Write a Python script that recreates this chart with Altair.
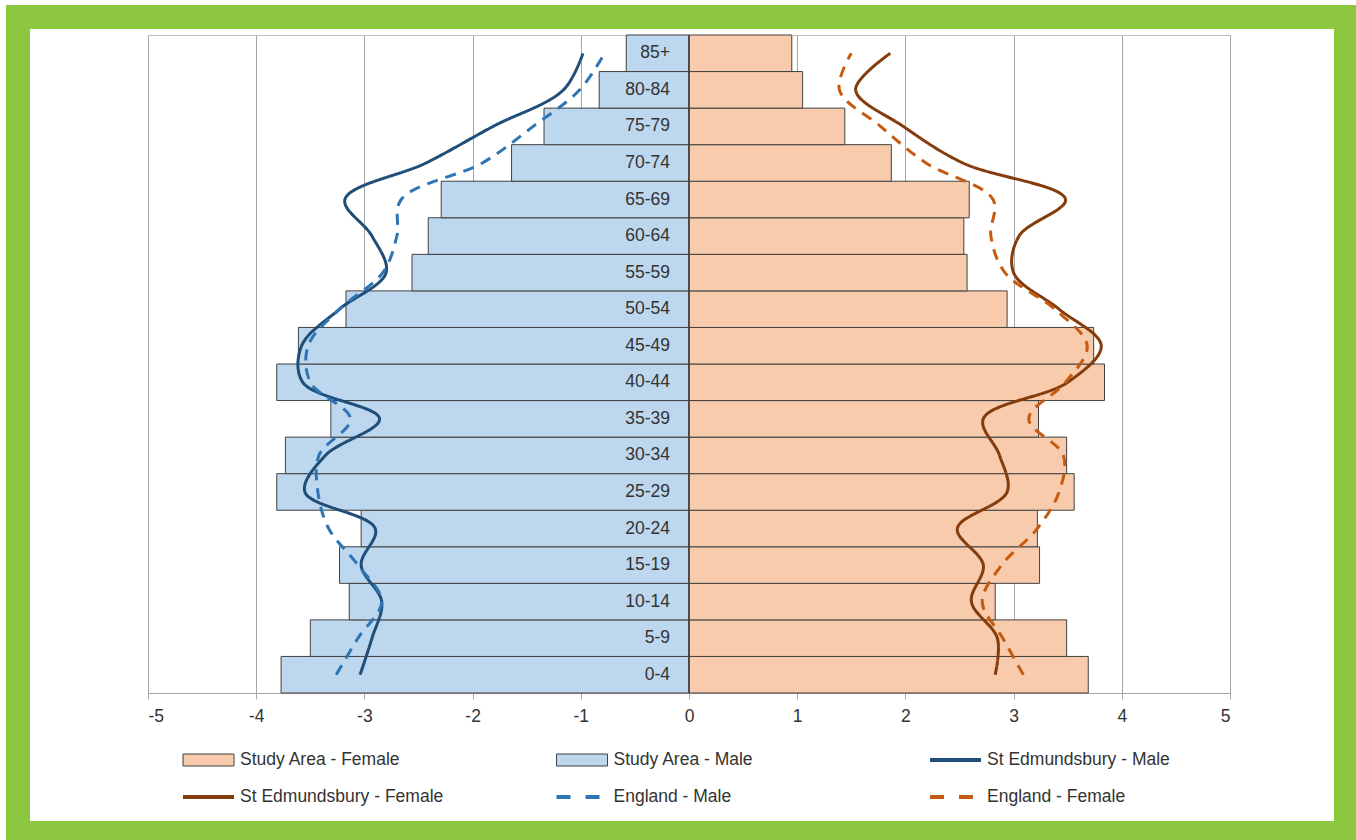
import altair as alt
import pandas as pd

# ---------------- data ----------------
ages = ["0-4", "5-9", "10-14", "15-19", "20-24", "25-29", "30-34", "35-39", "40-44",
        "45-49", "50-54", "55-59", "60-64", "65-69", "70-74", "75-79", "80-84", "85+"]

study_male = [-3.77, -3.50, -3.14, -3.23, -3.03, -3.81, -3.73, -3.31, -3.81,
              -3.61, -3.17, -2.56, -2.41, -2.29, -1.64, -1.34, -0.83, -0.58]
study_female = [3.69, 3.49, 2.83, 3.24, 3.22, 3.56, 3.49, 3.23, 3.84,
                3.74, 2.94, 2.57, 2.54, 2.59, 1.87, 1.44, 1.05, 0.95]

sted_male = [-3.04, -2.93, -2.84, -3.03, -2.90, -3.55, -3.36, -2.86, -3.57,
             -3.58, -3.23, -2.80, -2.93, -3.18, -2.43, -1.81, -1.16, -0.98]
eng_male = [-3.26, -3.06, -2.84, -3.06, -3.33, -3.43, -3.42, -3.13, -3.50,
            -3.52, -3.23, -2.83, -2.70, -2.66, -1.91, -1.44, -1.01, -0.78]
sted_female = [2.83, 2.85, 2.61, 2.72, 2.48, 2.94, 2.87, 2.72, 3.50,
               3.81, 3.42, 3.00, 3.05, 3.48, 2.53, 1.98, 1.54, 1.86]
eng_female = [3.09, 2.90, 2.71, 2.89, 3.22, 3.42, 3.46, 3.14, 3.48,
              3.68, 3.38, 2.92, 2.79, 2.81, 2.19, 1.77, 1.39, 1.50]

x_ticks = [-5, -4, -3, -2, -1, 0, 1, 2, 3, 4, 5]

legend_names = ["Study Area - Female", "Study Area - Male", "St Edmundsbury - Male",
                "St Edmundsbury - Female", "England - Male", "England - Female"]
legend_kinds = ["bar", "bar", "solid", "solid", "dash", "dash"]

series_colors = {
    "Study Area - Female": "#F8CBAD",
    "Study Area - Male": "#BDD7EE",
    "St Edmundsbury - Male": "#1F4E79",
    "St Edmundsbury - Female": "#843C0C",
    "England - Male": "#2E75B6",
    "England - Female": "#C55A11",
}

FONT = "Liberation Sans"
TEXT = "#333333"
FS = 17.5

# ---------------- tables ----------------
bars = pd.DataFrame({
    "age": ages * 2,
    "value": study_male + study_female,
    "series": ["Study Area - Male"] * len(ages) + ["Study Area - Female"] * len(ages),
})

line_rows = []
for name, vals in [("St Edmundsbury - Male", sted_male), ("England - Male", eng_male),
                   ("St Edmundsbury - Female", sted_female), ("England - Female", eng_female)]:
    for i, (a, v) in enumerate(zip(ages, vals)):
        line_rows.append({"age": a, "value": v, "series": name, "idx": i,
                          "kind": "dash" if name.startswith("England") else "solid"})
lines = pd.DataFrame(line_rows)

labels = pd.DataFrame({"age": ages})
legend_df = pd.DataFrame({"name": legend_names, "kind": legend_kinds,
                          "i": list(range(len(legend_names)))})
one = pd.DataFrame({"a": [0]})

dom = list(series_colors.keys())
rng = list(series_colors.values())
order_top = list(reversed(ages))

xscale = alt.Scale(domain=[-5, 5], nice=False, zero=False)
yscale = alt.Scale(paddingInner=0, paddingOuter=0)

# ---------------- layers ----------------
frame = alt.Chart(one).mark_rect(fill="transparent", stroke="#8DC63F", strokeWidth=24).encode(
    x=alt.value(-130), x2=alt.value(1198), y=alt.value(-18), y2=alt.value(798)
)

bar_layer = alt.Chart(bars).mark_bar(stroke="#404040", strokeWidth=1).encode(
    x=alt.X("value:Q", scale=xscale,
            axis=alt.Axis(values=x_ticks, title=None, grid=True,
                          labelExpr="'' + datum.value")),
    y=alt.Y("age:N", sort=order_top, scale=yscale, axis=None),
    fill=alt.Fill("series:N", scale=alt.Scale(domain=dom, range=rng), legend=None),
)

zero_rule = alt.Chart(one).mark_rule(color="#404040", strokeWidth=1.5).encode(
    x=alt.datum(0)
)

line_layer = alt.Chart(lines).mark_line(strokeWidth=3, interpolate="catmull-rom").encode(
    x=alt.X("value:Q", scale=xscale),
    y=alt.Y("age:N", sort=order_top, scale=yscale),
    color=alt.Color("series:N", scale=alt.Scale(domain=dom, range=rng), legend=None),
    strokeDash=alt.StrokeDash("kind:N", scale=alt.Scale(domain=["solid", "dash"],
                                                        range=[[1, 0], [11, 8]]), legend=None),
    detail="series:N",
    order=alt.Order("idx:Q"),
)

cat_labels = alt.Chart(labels).mark_text(
    align="right", baseline="middle", dx=-19, font=FONT, fontSize=FS, color=TEXT
).encode(
    x=alt.datum(0),
    y=alt.Y("age:N", sort=order_top, scale=yscale),
    text="age:N",
)

leg_base = alt.Chart(legend_df).transform_calculate(
    col="datum.i % 3", row="floor(datum.i / 3)"
).transform_calculate(
    sx="35 + datum.col * 373.5", sy="725 + datum.row * 37"
).transform_calculate(
    sx2="datum.sx + 51", sy1="datum.sy - 6", sy2="datum.sy + 6", tx="datum.sx + 57"
)

leg_rect = leg_base.transform_filter("datum.kind == 'bar'").mark_rect(
    stroke="#404040", strokeWidth=1
).encode(
    x=alt.X("sx:Q", scale=None), x2="sx2:Q",
    y=alt.Y("sy1:Q", scale=None), y2="sy2:Q",
    fill=alt.Fill("name:N", scale=alt.Scale(domain=dom, range=rng), legend=None),
)

leg_line = leg_base.transform_filter("datum.kind != 'bar'").mark_rule(strokeWidth=4).encode(
    x=alt.X("sx:Q", scale=None), x2="sx2:Q",
    y=alt.Y("sy:Q", scale=None),
    color=alt.Color("name:N", scale=alt.Scale(domain=dom, range=rng), legend=None),
    strokeDash=alt.StrokeDash("kind:N", scale=alt.Scale(domain=["solid", "dash"],
                                                        range=[[1, 0], [14, 15]]), legend=None),
)

leg_text = leg_base.mark_text(align="left", baseline="middle", font=FONT, fontSize=FS,
                              color=TEXT).encode(
    x=alt.X("tx:Q", scale=None), y=alt.Y("sy:Q", scale=None), text="name:N"
)

chart = alt.layer(
    frame, bar_layer, zero_rule, line_layer, cat_labels, leg_rect, leg_line, leg_text
).resolve_scale(
    color="independent", fill="independent", strokeDash="independent"
).properties(
    width=1082, height=658,
    autosize=alt.AutoSizeParams(type="none"),
    padding={"left": 148, "top": 35, "right": 126, "bottom": 147},
    background="white",
).configure_view(
    stroke="#BFBFBF", strokeWidth=1
).configure_axis(
    gridColor="#A6A6A6", gridWidth=1,
    domainColor="#A6A6A6", domainWidth=1,
    tickColor="#A6A6A6", tickSize=6,
    labelFont=FONT, labelFontSize=FS, labelColor=TEXT, labelPadding=8,
)

chart.save("out.html", embed_options={"renderer": "svg", "actions": False})
